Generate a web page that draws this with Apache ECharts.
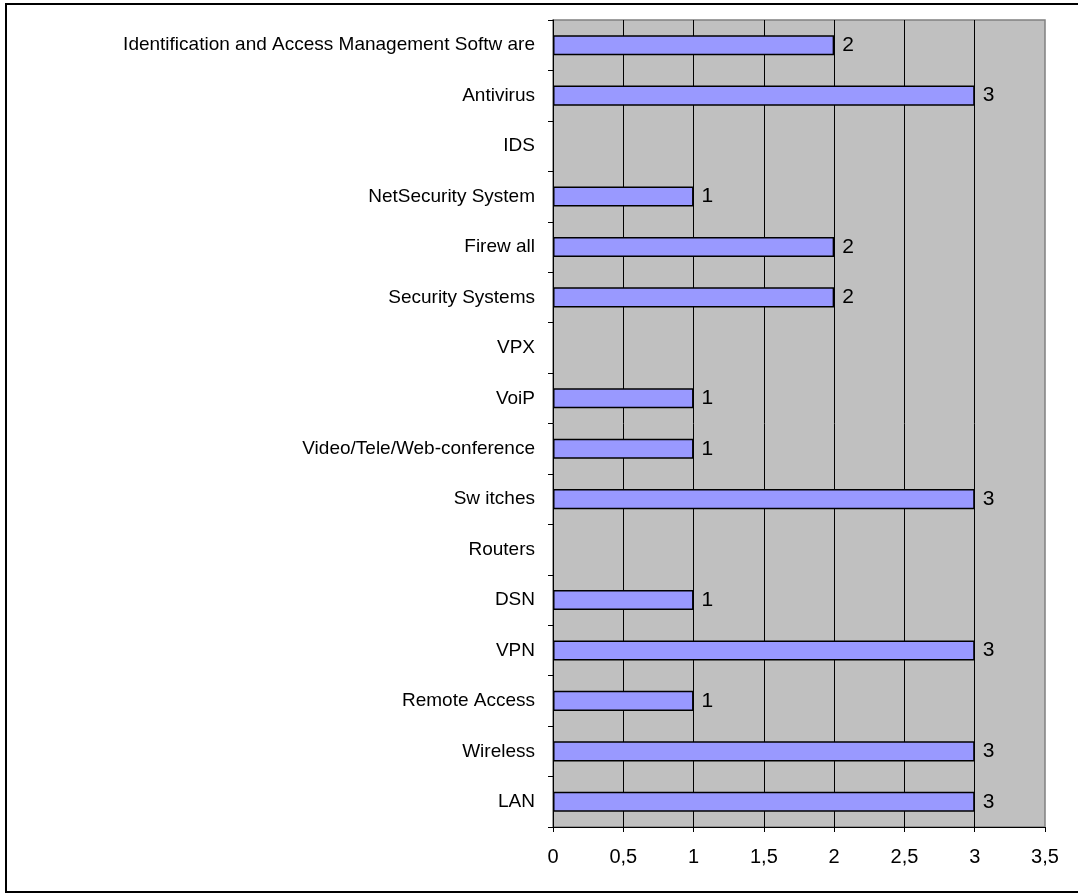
<!DOCTYPE html>
<html>
<head>
<meta charset="utf-8">
<script src="https://cdn.jsdelivr.net/npm/echarts@6/dist/echarts.min.js"></script>
<style>
html,body{margin:0;padding:0;background:#fff;}
#main{width:1078px;height:894px;}
</style>
</head>
<body>
<div id="main"></div>
<script>
const categories = ["LAN","Wireless","Remote Access","VPN","DSN","Routers","Sw itches","Video/Tele/Web-conference","VoiP","VPX","Security Systems","Firew all","NetSecurity System","IDS","Antivirus","Identification and Access Management Softw are"];
const values = [3,3,1,3,1,0,3,1,1,0,2,2,1,0,3,2];
const xTicks = {min:0, max:3.5, interval:0.5};

const barData = values.map(v => v === 0 ? {value:v, itemStyle:{borderWidth:0}} : v);

const chart = echarts.init(document.getElementById('main'));
chart.setOption({
  animation:false,
  backgroundColor:'#ffffff',
  graphic:[{type:'rect', shape:{x:6,y:4,width:1090,height:888}, style:{fill:'none', stroke:'#000', lineWidth:2}, z:-1}],
  grid:{left:553, top:20, width:492, height:807, show:true, backgroundColor:'#c0c0c0', borderColor:'#808080', borderWidth:1.5, containLabel:false},
  xAxis:{type:'value', min:xTicks.min, max:xTicks.max, interval:xTicks.interval,
    axisLine:{show:true, onZero:false, lineStyle:{color:'#000', width:1}},
    axisTick:{show:true, length:5, lineStyle:{color:'#000'}},
    axisLabel:{color:'#000', fontFamily:'Liberation Sans, Arial', fontSize:20, margin:20, formatter:v=>String(v).replace('.',',')},
    splitLine:{show:true, showMinLine:false, showMaxLine:false, lineStyle:{color:'#000', width:1}}
  },
  yAxis:{type:'category', data:categories,
    axisLine:{show:true, lineStyle:{color:'#000', width:1}},
    axisTick:{show:true, length:5, alignWithLabel:false, lineStyle:{color:'#000'}},
    axisLabel:{color:'#000', fontFamily:'Liberation Sans, Arial', fontSize:19, margin:18},
    splitLine:{show:false}
  },
  series:[{type:'bar', data:barData, barCategoryGap:'60%',
    itemStyle:{color:'#9999ff', borderColor:'#000', borderWidth:1.5},
    label:{show:true, position:'right', distance:8, color:'#000', fontFamily:'Liberation Sans, Arial', fontSize:21, formatter:p=>p.value?String(p.value):''}
  }]
});
</script>
</body>
</html>
